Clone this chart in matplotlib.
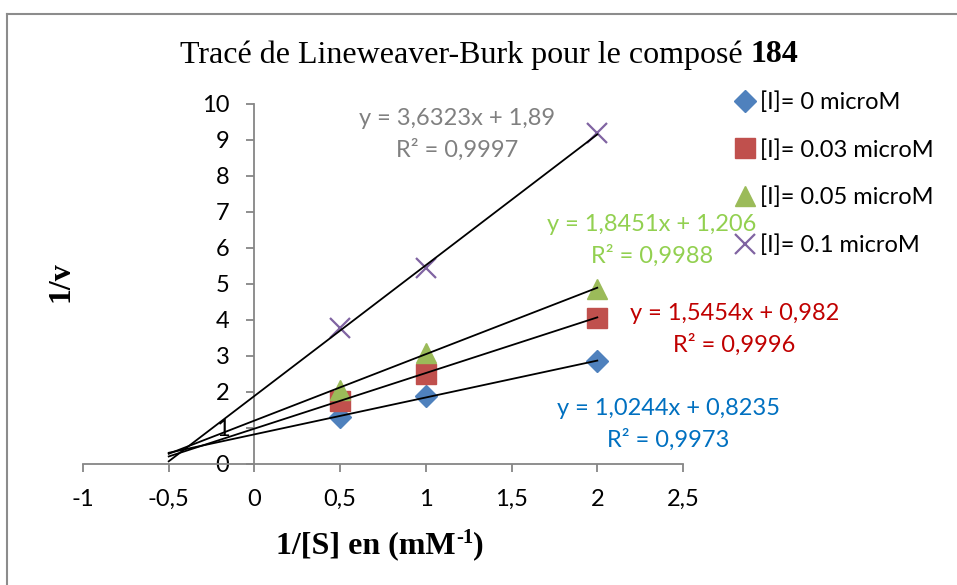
import numpy as np
import matplotlib
matplotlib.use("Agg")
from matplotlib import pyplot as plt
from matplotlib.lines import Line2D

# data
x_vals = [0.5, 1.0, 2.0]
y_i0 = [1.31, 1.89, 2.86]
y_i003 = [1.75, 2.50, 4.06]
y_i005 = [2.06, 3.08, 4.86]
y_i01 = [3.78, 5.44, 9.19]

labels = ['[I]= 0 microM', '[I]= 0.03 microM', '[I]= 0.05 microM', '[I]= 0.1 microM']
slopes = [1.0244, 1.5454, 1.8451, 3.6323]
intercepts = [0.8235, 0.982, 1.206, 1.89]
r2 = ['0,9973', '0,9996', '0,9988', '0,9997']
eq_text = ['y = 1,0244x + 0,8235', 'y = 1,5454x + 0,982',
           'y = 1,8451x + 1,206', 'y = 3,6323x + 1,89']

trend_x = [-0.5, 2.0]

plt.rcParams['font.family'] = ['Lato', 'DejaVu Sans']

W, H = 957, 585
fig = plt.figure(figsize=(W / 100, H / 100), dpi=100)
ax = fig.add_axes([83/W, 1 - 464/H, 600/W, 360/H])
rend = fig.canvas.get_renderer()

ys = [y_i0, y_i003, y_i005, y_i01]
colors = ['#4F81BD', '#C0504D', '#9BBB59', '#8064A2']
markers = ['D', 's', '^', 'x']
msizes = [11, 14, 14, 14]
for y, c, m, ms, lab in zip(ys, colors, markers, msizes, labels):
    if m == 'x':
        ax.plot(x_vals, y, ls='none', marker=m, ms=ms, mew=1.6, color=c, label=lab, zorder=3)
    else:
        ax.plot(x_vals, y, ls='none', marker=m, ms=ms, color=c, mec=c, label=lab, zorder=3)

for a, b in zip(slopes, intercepts):
    tx = np.array(trend_x)
    ax.plot(tx, a * tx + b, color='black', lw=1.3, zorder=4)

# equation labels (positions in data units)
eq_colors = ['#0070C0', '#C00000', '#92D050', '#808080']
eq_pos = [(2.415, 1.53, 0.67), (2.80, 4.17, 3.31), (2.32, 6.64, 5.78), (1.18, 9.61, 8.72)]
for txt, r, c, (px, py1, py2) in zip(eq_text, r2, eq_colors, eq_pos):
    ax.text(px, py1, txt, color=c, fontsize=17, ha='center', va='center', clip_on=False)
    ax.text(px, py2, 'R² = ' + r, color=c, fontsize=17, ha='center', va='center', clip_on=False)

ax.set_xlim(-1, 2.5)
ax.set_ylim(0, 10)
ax.set_xticks(np.arange(-1, 2.51, 0.5))
ax.set_xticklabels(['-1', '-0,5', '0', '0,5', '1', '1,5', '2', '2,5'])
ax.set_yticks(range(0, 11))

ax.spines['left'].set_position(('data', 0))
ax.spines['bottom'].set_position(('data', 0))
ax.spines['top'].set_visible(False)
ax.spines['right'].set_visible(False)
for s in ['left', 'bottom']:
    ax.spines[s].set_color('#868686')
    ax.spines[s].set_linewidth(1.3)
ax.tick_params(axis='both', direction='out', length=6, width=1.3, color='#868686',
               labelsize=17, labelcolor='black')
ax.tick_params(axis='x', pad=12)
ax.tick_params(axis='y', pad=12)
ax.patch.set_alpha(0)


def pieces(parts, xc, yc):
    # draw text pieces side by side, centred on xc (pixels)
    objs = []
    for s, kw, dy in parts:
        objs.append((fig.text(0, 1 - (yc - dy) / H, s, ha='left', va='center', **kw), dy))
    widths = [t.get_window_extent(rend).width for t, _ in objs]
    x = xc - sum(widths) / 2
    for (t, dy), w in zip(objs, widths):
        t.set_x(x / W)
        x += w


serif = dict(family='Liberation Serif')
pieces([('Tracé de Lineweaver-Burk pour le composé ', dict(fontsize=23, **serif), 0),
        ('184', dict(fontsize=23, weight='bold', **serif), 0)], 489, 55)
pieces([('1/[S] en (mM', dict(fontsize=23, weight='bold', **serif), 0),
        ('-1', dict(fontsize=15, weight='bold', **serif), 8),
        (')', dict(fontsize=23, weight='bold', **serif), 0)], 380, 546)

fig.text(61/W, 1 - 282/H, '1/v', fontsize=23, family='Liberation Serif',
         weight='bold', rotation=90, ha='center', va='center')

leg = fig.legend(loc='upper left', bbox_to_anchor=(723/W, 1 - 82/H), frameon=False,
                 fontsize=17, handletextpad=0.05, handlelength=1.1, labelspacing=1.1,
                 borderaxespad=0)

# outer chart border
fig.add_artist(Line2D([7.5/W, 7.5/W], [0, 1 - 14/H], transform=fig.transFigure,
                      color='#8c8c8c', lw=1.5))
fig.add_artist(Line2D([7.5/W, 1], [1 - 14/H, 1 - 14/H], transform=fig.transFigure,
                      color='#8c8c8c', lw=1.5))

fig.savefig('out.png', dpi=100)
